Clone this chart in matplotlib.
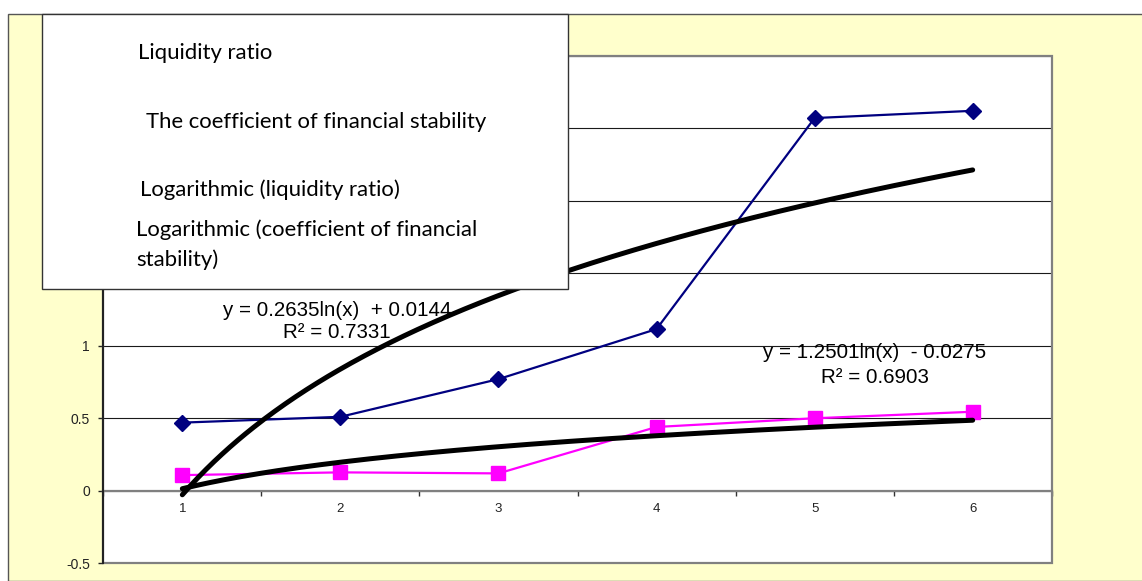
import numpy as np
import matplotlib
matplotlib.use("Agg")
import matplotlib.pyplot as plt
from matplotlib.patches import Rectangle
from matplotlib.ticker import FixedLocator, FuncFormatter

# ---- data -------------------------------------------------------------
periods = [1, 2, 3, 4, 5, 6]
liquidity_ratio = [0.47, 0.51, 0.77, 1.115, 2.57, 2.62]
financial_stability = [0.108, 0.127, 0.12, 0.44, 0.50, 0.545]

# logarithmic trendlines y = a*ln(x) + b, with R^2
liq_a, liq_b, liq_r2 = 1.2501, -0.0275, 0.6903
fin_a, fin_b, fin_r2 = 0.2635, 0.0144, 0.7331

y_ticks = [-0.5, 0, 0.5, 1, 1.5, 2, 2.5, 3]
legend_labels = [
    "Liquidity ratio",
    "The coefficient of financial stability",
    "Logarithmic (liquidity ratio)",
    "Logarithmic (coefficient of financial\nstability)",
]

# ---- figure -----------------------------------------------------------
W, H = 1142, 581
fig = plt.figure(figsize=(W / 100, H / 100), dpi=100, facecolor="white")

def fx(px):
    return px / W

def fy(py):
    return 1 - py / H

# chart area background
fig.patches.append(Rectangle((fx(8), 0), 1 - fx(8) + 0.01, fy(14),
                             transform=fig.transFigure, facecolor="#FFFFCC",
                             edgecolor="#555555", linewidth=1.0, zorder=-5))

ax = fig.add_axes([fx(103.3), fy(563.3), fx(1051.7) - fx(103.3), fy(55.7) - fy(563.3)])
ax.set_zorder(1)
ax.set_facecolor("white")
ax.set_xlim(0.5, 6.5)
ax.set_ylim(-0.5, 3.0)

# gridlines
ax.yaxis.set_major_locator(FixedLocator(y_ticks))
ax.yaxis.set_major_formatter(FuncFormatter(lambda v, p: f"{v:g}"))
ax.grid(axis="y", color="#1a1a1a", linewidth=0.8, zorder=1)
ax.set_axisbelow(True)

# plot-area border
for s in ["top", "right"]:
    ax.spines[s].set_visible(False)
ax.add_patch(Rectangle((0, 0), 1, 1, transform=ax.transAxes, fill=False,
                       edgecolor="#808080", linewidth=1.6, zorder=2, clip_on=False))
ax.spines["left"].set_color("#222222")
ax.spines["left"].set_linewidth(1.5)
ax.spines["left"].set_zorder(3)
ax.spines["bottom"].set_position(("data", 0))
ax.spines["bottom"].set_color("#808080")
ax.spines["bottom"].set_linewidth(1.6)

# category axis: labels at categories, tick marks between them
ax.xaxis.set_major_locator(FixedLocator(periods))
ax.xaxis.set_minor_locator(FixedLocator(np.arange(0.5, 7.0, 1.0)))
ax.tick_params(axis="x", which="major", length=0, pad=8.5,
               labelsize=9.5, labelcolor="#222222")
ax.tick_params(axis="x", which="minor", length=3.5, width=1.0,
               color="#333333", direction="out")
ax.tick_params(axis="y", which="major", length=3.5, width=1.0,
               color="#222222", direction="out", pad=6,
               labelsize=10, labelcolor="#222222")
for lab in ax.get_xticklabels() + ax.get_yticklabels():
    lab.set_fontfamily("Liberation Sans")

# series
ax.plot(periods, liquidity_ratio, color="#000080", linewidth=1.6,
        marker="D", markersize=8, markerfacecolor="#000080",
        markeredgecolor="#000080", zorder=4, clip_on=False)
ax.plot(periods, financial_stability, color="#FF00FF", linewidth=1.6,
        marker="s", markersize=9.5, markerfacecolor="#FF00FF",
        markeredgecolor="#FF00FF", zorder=4, clip_on=False)

# trendlines
xt = np.linspace(periods[0], periods[-1], 300)
ax.plot(xt, liq_a * np.log(xt) + liq_b, color="black", linewidth=3.6,
        solid_capstyle="round", zorder=5)
ax.plot(xt, fin_a * np.log(xt) + fin_b, color="black", linewidth=3.6,
        solid_capstyle="round", zorder=5)

# trendline equations
eq_kw = dict(ha="center", va="center", fontsize=14.8,
             fontfamily="Liberation Sans", color="black", zorder=6)
ax.text(1.98, 1.24, f"y = {fin_a:.4f}ln(x)  + {fin_b:.4f}", **eq_kw)
ax.text(1.98, 1.088, f"R² = {fin_r2:.4f}", **eq_kw)
ax.text(5.38, 0.952, f"y = {liq_a:.4f}ln(x)  - {abs(liq_b):.4f}", **eq_kw)
ax.text(5.38, 0.784, f"R² = {liq_r2:.4f}", **eq_kw)

# legend box
fig.patches.append(Rectangle((fx(42), fy(289)), fx(568) - fx(42), fy(14) - fy(289),
                             transform=fig.transFigure, facecolor="white",
                             edgecolor="#333333", linewidth=1.0, zorder=10))
leg_kw = dict(fontsize=15.9, fontfamily="Lato", color="black", va="center",
              ha="left", zorder=11)
leg_pos = [(138.5, [53.3]), (146.5, [121.7]), (139.5, [189.3]), (136.5, [230.0, 259.3])]
for label, (x0, ys) in zip(legend_labels, leg_pos):
    for line, y0 in zip(label.split("\n"), ys):
        fig.text(fx(x0), fy(y0), line, **leg_kw)

fig.savefig("out.png", dpi=100, facecolor="white")
